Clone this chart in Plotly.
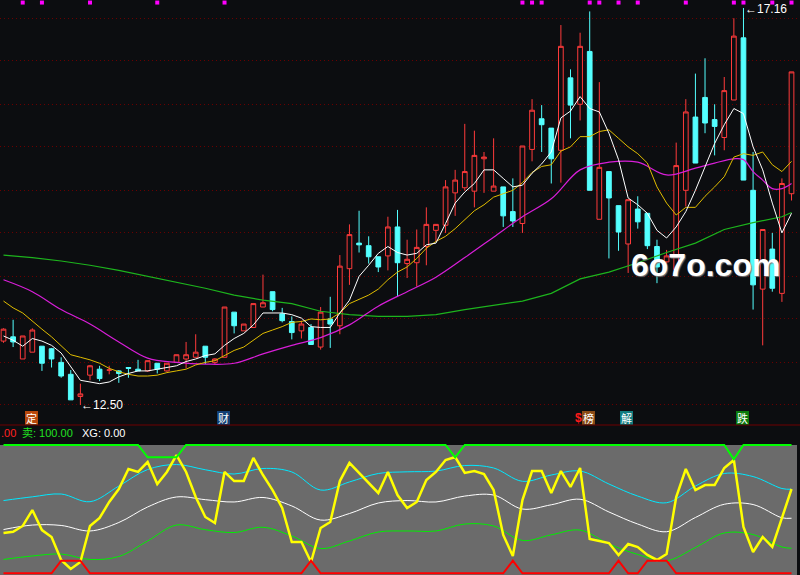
import plotly.graph_objects as go

# ---------------- data ----------------
opens = [13.25,13.30,13.04,13.12,13.19,13.16,13.00,12.86,12.60,12.85,
         12.92,12.91,12.90,12.94,12.92,12.90,12.99,12.90,13.00,13.04,
         13.06,13.19,13.00,13.06,13.59,13.37,13.41,13.65,13.83,13.57,
         13.48,13.37,13.41,13.18,13.51,13.43,14.10,14.40,14.37,14.24,
         14.25,14.59,14.16,14.17,14.36,14.55,14.61,14.99,15.05,15.01,
         15.39,15.01,15.06,14.77,14.63,15.50,15.86,15.75,15.49,16.34,
         16.03,16.65,14.68,15.24,14.84,14.39,14.80,14.75,14.36,14.18,
         14.09,15.02,15.88,16.11,15.85,15.64,16.08,16.81,15.02,13.86,
         14.33,13.81,14.98]
highs = [13.40,13.50,13.31,13.40,13.19,13.17,13.06,12.91,12.75,12.97,
         12.96,12.96,12.91,12.94,13.03,13.02,12.99,12.99,13.09,13.24,
         13.33,13.19,13.05,13.65,13.59,13.45,13.69,14.03,13.83,13.64,
         13.54,13.49,13.45,13.65,13.77,14.26,14.62,14.78,14.48,14.24,
         14.71,14.79,14.44,14.56,14.82,14.62,15.14,15.26,15.80,15.72,
         15.47,15.63,15.06,15.16,15.54,16.09,16.02,15.75,16.96,16.44,
         16.87,17.12,16.29,15.24,14.84,14.91,14.95,14.75,14.44,14.32,
         15.58,16.09,16.39,16.57,16.03,16.35,17.04,17.16,15.47,14.56,
         14.52,15.16,16.41]
lows = [13.23,13.18,13.04,13.12,12.90,12.94,12.82,12.56,12.50,12.79,
        12.78,12.86,12.76,12.82,12.90,12.89,12.87,12.89,13.00,12.93,
        13.06,12.98,12.97,13.06,13.34,13.37,13.41,13.65,13.60,13.47,
        13.27,13.28,13.21,13.15,13.17,13.33,13.91,14.29,14.16,14.06,
        14.08,13.77,13.99,13.89,14.14,14.42,14.52,14.72,15.02,14.82,
        14.99,15.01,14.59,14.59,14.52,15.36,15.47,15.10,15.11,15.63,
        15.84,15.02,14.68,14.22,14.31,14.05,14.57,14.33,13.93,14.13,
        14.09,14.83,15.34,15.69,15.43,15.49,16.08,15.14,13.62,13.20,
        13.83,13.71,14.90]
closes = [13.39,13.24,13.31,13.38,12.99,13.04,12.84,12.56,12.63,12.96,
          12.81,12.91,12.87,12.93,12.90,13.02,12.92,12.99,13.09,13.09,
          13.12,13.06,13.04,13.65,13.43,13.45,13.69,13.70,13.62,13.49,
          13.35,13.45,13.21,13.59,13.45,14.13,14.50,14.38,14.24,14.12,
          14.59,14.17,14.21,14.35,14.62,14.62,15.06,15.14,15.24,15.43,
          15.41,15.07,14.72,14.66,15.54,15.96,15.79,15.39,16.71,16.02,
          16.71,15.02,15.29,14.93,14.53,14.91,14.65,14.37,14.12,14.25,
          15.31,15.94,15.34,15.81,15.77,16.19,16.83,15.14,13.91,14.56,
          13.87,15.10,16.41]

ma5 = [13.31,13.26,13.19,13.28,13.25,13.20,13.11,12.95,12.79,12.77,
       12.75,12.77,12.83,12.87,12.90,12.90,12.92,12.94,12.96,13.01,
       13.04,13.08,13.10,13.20,13.28,13.34,13.44,13.58,13.58,13.58,
       13.56,13.52,13.42,13.41,13.41,13.58,13.73,14.01,14.14,14.28,
       14.36,14.29,14.26,14.28,14.38,14.40,14.63,14.87,15.00,15.10,
       15.26,15.26,15.16,15.06,15.08,15.22,15.33,15.47,15.87,15.95,
       16.12,15.98,15.94,15.69,15.38,14.93,14.85,14.75,14.55,14.46,
       14.59,14.77,15.02,15.30,15.57,15.79,15.98,15.92,15.53,15.26,
       14.87,14.52,14.75]
ma10 = [13.72,13.64,13.58,13.48,13.39,13.30,13.20,13.09,13.06,13.03,
        12.99,12.93,12.89,12.86,12.84,12.84,12.85,12.88,12.90,12.92,
        12.97,13.00,13.02,13.08,13.14,13.18,13.26,13.34,13.38,13.42,
        13.47,13.48,13.51,13.50,13.51,13.58,13.69,13.74,13.79,13.86,
        13.97,14.06,14.12,14.22,14.34,14.42,14.48,14.57,14.67,14.78,
        14.85,14.94,14.98,15.02,15.11,15.23,15.30,15.32,15.48,15.53,
        15.65,15.65,15.71,15.73,15.63,15.53,15.45,15.34,15.06,14.87,
        14.73,14.82,14.82,14.95,15.06,15.18,15.41,15.45,15.43,15.47,
        15.32,15.24,15.36]
ma_mid_idx = [0,3,6,9,12,15,18,21,24,27,30,33,36,39,42,45,48,51,54,57,60,63,66,69,72,74,76,77,78,79,80,81,82]
ma_mid = [13.97,13.83,13.62,13.45,13.24,13.05,13.00,12.98,12.99,13.10,13.20,13.29,13.44,13.66,13.83,14.00,
          14.23,14.47,14.71,14.92,15.26,15.35,15.35,15.20,15.28,15.34,15.39,15.38,15.24,15.14,15.04,15.04,15.10]
ma_long_idx = [0,3,6,9,12,15,18,21,24,27,30,33,36,39,42,45,48,51,54,57,60,63,66,69,72,75,78,81,82]
ma_long = [14.26,14.23,14.19,14.14,14.08,14.01,13.94,13.87,13.79,13.73,13.69,13.60,13.56,13.54,13.54,
           13.56,13.62,13.67,13.72,13.81,13.98,14.06,14.17,14.29,14.40,14.56,14.64,14.71,14.76]
grid_levels = [12.50,13.00,13.51,14.01,14.52,15.02,15.53,16.03,16.54,17.04]
top_marks = [2,4,9,16,23,54,55,56,61,62,64,66,71,76,77,80,82]

# indicator panel
osc_yellow = [31.4,32.4,36.9,49.3,33.7,28.3,10.4,3.4,8.8,36.9,
              43.1,55.6,65.7,81.3,79.0,86.7,69.6,79.0,92.2,79.0,
              59.5,43.9,39.2,79.0,71.9,71.9,89.9,76.6,64.9,50.9,
              24.4,24.4,8.8,35.3,40.0,71.9,86.0,78.2,70.4,62.6,
              79.0,61.0,50.9,55.6,72.7,79.0,88.3,90.6,78.2,79.7,
              77.4,64.9,29.9,13.5,57.1,79.7,79.7,62.6,79.7,67.3,
              82.1,26.7,25.2,23.6,14.3,22.8,20.5,14.3,10.4,15.0,
              59.5,81.3,64.9,68.8,68.8,82.1,88.3,36.1,16.6,28.3,
              20.5,43.1,65.7]
band_idx = [0,3,6,9,12,15,18,21,24,27,30,33,36,39,42,45,48,51,54,57,60,63,66,69,72,75,78,81,82]
band_upper = [56.7,59.6,61.8,55.8,68.0,80.9,84.8,80.7,77.4,81.7,79.0,64.9,71.2,77.8,79.1,79.7,84.0,82.1,
              71.7,76.6,79.7,69.6,60.2,55.0,68.0,77.8,75.4,66.1,65.5]
band_mid = [34.1,37.6,37.3,33.0,39.6,51.7,59.5,57.4,55.6,59.1,52.5,41.5,46.6,54.8,56.7,55.6,60.2,61.0,
            50.1,53.4,57.7,47.8,38.4,32.4,43.5,53.8,53.6,43.3,42.9]
band_lower = [10.8,13.5,15.0,10.8,13.1,25.2,37.6,34.0,31.8,35.9,29.1,19.3,25.2,32.2,33.0,33.0,38.4,36.9,
              25.6,30.0,33.7,22.8,14.7,9.8,20.1,31.4,30.2,20.5,19.5]
sell_line = [100,100,100,100,100,100,100,100,100,100,
             100,100,100,100,100,90.4,90.4,90.4,90.4,100,
             100,100,100,100,100,100,100,100,100,100,
             100,100,100,100,100,100,100,100,100,100,
             100,100,100,100,100,100,100,90.4,100,100,
             100,100,100,100,100,100,100,100,100,100,
             100,100,100,100,100,100,100,100,100,100,
             100,100,100,100,100,100,88.9,100,100,100,
             100,100,100]
buy_line = [0,0,0,0,0,0,9.8,9.8,9.8,0,
            0,0,0,0,0,0,0,0,0,0,
            0,0,0,0,0,0,0,0,0,0,
            0,0,9.8,0,0,0,0,0,0,0,
            0,0,0,0,0,0,0,0,0,0,
            0,0,0,9.8,0,0,0,0,0,0,
            0,0,0,0,9.8,0,0,9.8,9.8,9.8,
            0,0,0,0,0,0,0,0,0,0,
            0,0,0]

# ---------------- figure ----------------
W, H = 800, 575
BG = '#0c0d10'
idx = list(range(len(opens)))

def px(xp):
    return xp / W

def py(yp):
    return 1 - yp / H

fig = go.Figure()

fig.add_trace(go.Candlestick(
    x=idx, open=opens, high=highs, low=lows, close=closes,
    increasing=dict(line=dict(color='#ff3b3b', width=1), fillcolor=BG),
    decreasing=dict(line=dict(color='#54ffff', width=1), fillcolor='#54ffff'),
    whiskerwidth=0, xaxis='x', yaxis='y', hoverinfo='skip'))

fig.add_trace(go.Scatter(x=ma_long_idx, y=ma_long, mode='lines', line=dict(color='#1db41d', width=1.2), xaxis='x', yaxis='y'))
fig.add_trace(go.Scatter(x=ma_mid_idx, y=ma_mid, mode='lines', line=dict(color='#d81ed8', width=1.2, shape='spline'), xaxis='x', yaxis='y'))
fig.add_trace(go.Scatter(x=idx, y=ma10, mode='lines', line=dict(color='#e0bc00', width=1), xaxis='x', yaxis='y'))
fig.add_trace(go.Scatter(x=idx, y=ma5, mode='lines', line=dict(color='#ffffff', width=1), xaxis='x', yaxis='y'))

fig.add_trace(go.Scatter(x=top_marks, y=[17.224] * len(top_marks), mode='markers',
                         marker=dict(symbol='square', size=4, color='#ff00ff'),
                         cliponaxis=False, xaxis='x', yaxis='y'))

# indicator panel traces
fig.add_trace(go.Scatter(x=band_idx, y=band_lower, mode='lines', line=dict(color='#00f000', width=1, shape='spline'), xaxis='x2', yaxis='y2'))
fig.add_trace(go.Scatter(x=band_idx, y=band_mid, mode='lines', line=dict(color='#ffffff', width=1, shape='spline'), xaxis='x2', yaxis='y2'))
fig.add_trace(go.Scatter(x=band_idx, y=band_upper, mode='lines', line=dict(color='#00e8ff', width=1, shape='spline'), xaxis='x2', yaxis='y2'))
fig.add_trace(go.Scatter(x=idx, y=osc_yellow, mode='lines', line=dict(color='#ffff00', width=2.5), xaxis='x2', yaxis='y2'))
fig.add_trace(go.Scatter(x=idx, y=sell_line, mode='lines', line=dict(color='#00ff00', width=2), xaxis='x2', yaxis='y2'))
fig.add_trace(go.Scatter(x=idx, y=buy_line, mode='lines', line=dict(color='#ff0000', width=2), xaxis='x2', yaxis='y2'))

xr = [-3.5 / 9.61, (W - 3.5) / 9.61]

shapes = [
    dict(type='rect', xref='paper', yref='paper', x0=0, x1=px(797), y0=0, y1=py(445),
         fillcolor='#6b6b6b', line=dict(width=0), layer='below'),
    dict(type='line', xref='paper', yref='paper', x0=0, x1=1, y0=py(425), y1=py(425),
         line=dict(color='#6e0000', width=1)),
]

labels = [
    ('定', 25, 38, '#b8480c'),
    ('财', 217, 230, '#123f74'),
    ('榜', 582, 595, '#8a4b16'),
    ('解', 620, 633, '#137c80'),
    ('跌', 736, 749, '#0b7a0b'),
]
annotations = []
for ch, x0, x1, col in labels:
    shapes.append(dict(type='rect', xref='paper', yref='paper', x0=px(x0), x1=px(x1),
                       y0=py(424.5), y1=py(411), fillcolor=col, line=dict(width=0)))
    annotations.append(dict(x=px((x0 + x1) / 2), y=py(418), xref='paper', yref='paper',
                            text=ch, showarrow=False, xanchor='center', yanchor='middle',
                            font=dict(family='Noto Sans CJK SC', size=11, color='#ffffff')))

annotations += [
    dict(x=px(578.5), y=py(418), xref='paper', yref='paper', text='<b>$</b>', showarrow=False,
         xanchor='center', yanchor='middle', font=dict(family='Liberation Sans', size=12, color='#ff1a1a')),
    dict(x=px(79), y=py(405), xref='paper', yref='paper', text='←12.50', showarrow=False,
         xanchor='left', yanchor='middle', font=dict(family='Liberation Sans', size=12, color='#ffffff')),
    dict(x=px(743), y=py(9), xref='paper', yref='paper', text='←17.16', showarrow=False,
         xanchor='left', yanchor='middle', font=dict(family='Liberation Sans', size=12, color='#ffffff')),
    dict(x=px(-1), y=py(432.5), xref='paper', yref='paper', text='.00', showarrow=False,
         xanchor='left', yanchor='middle', font=dict(family='Liberation Sans', size=11, color='#ff2222')),
    dict(x=px(19.5), y=py(432.5), xref='paper', yref='paper', text='卖: 100.00', showarrow=False,
         xanchor='left', yanchor='middle', font=dict(family='Liberation Sans, Noto Sans CJK SC', size=11, color='#22e022')),
    dict(x=px(80), y=py(432.5), xref='paper', yref='paper', text='XG: 0.00', showarrow=False,
         xanchor='left', yanchor='middle', font=dict(family='Liberation Sans', size=11, color='#ffffff')),
    dict(x=px(705), y=py(265), xref='paper', yref='paper', text='6o7o.com', showarrow=False,
         xanchor='center', yanchor='middle',
         font=dict(family='Liberation Sans', size=32, color='#ffffff', weight='bold',
                   shadow='1px 1px 1px #777777')),
]

fig.update_layout(
    width=W, height=H, margin=dict(l=0, r=0, t=0, b=0),
    paper_bgcolor=BG, plot_bgcolor='rgba(0,0,0,0)', showlegend=False,
    xaxis=dict(domain=[0, 1], range=xr, visible=False, rangeslider=dict(visible=False), anchor='y'),
    yaxis=dict(domain=[1 - 425 / H, 1], range=[12.265, 17.254], tickvals=grid_levels,
               showticklabels=False, ticks='', showline=False, zeroline=False,
               gridcolor='#6a0000', griddash='1px,3px', gridwidth=1, anchor='x'),
    xaxis2=dict(domain=[0, 1], range=xr, visible=False, anchor='y2', matches='x'),
    yaxis2=dict(domain=[0, 132 / H], range=[-1.32, 101.56], visible=False, anchor='x2'),
    shapes=shapes, annotations=annotations,
)

page_fix = ("document.body.style.margin='0';document.body.style.padding='0';"
            "document.documentElement.style.overflow='hidden';document.body.style.background='%s';" % BG)
fig.write_html('out.html', post_script=page_fix, config={'displayModeBar': False})
